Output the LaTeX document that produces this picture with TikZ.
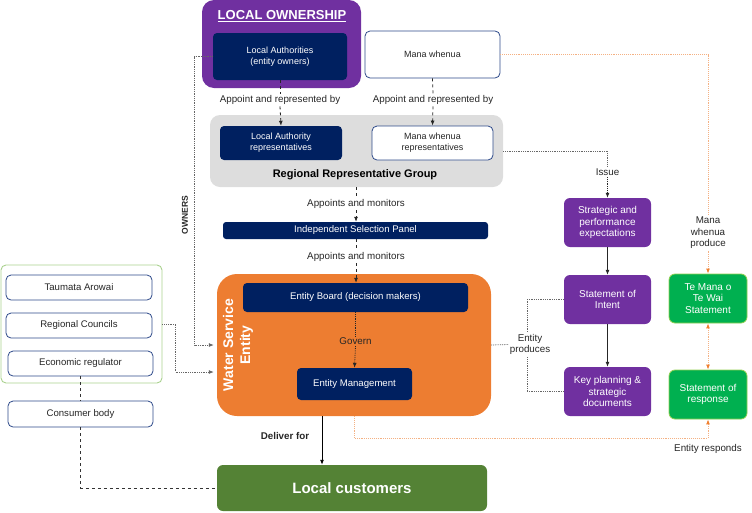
\documentclass[tikz,border=0pt]{standalone}
\usepackage{fontspec}
\setmainfont{Liberation Sans}
\usetikzlibrary{arrows.meta}
\definecolor{navy}{HTML}{002060}
\definecolor{ownpurple}{HTML}{7030A0}
\definecolor{wseorange}{HTML}{ED7D31}
\definecolor{custgreen}{HTML}{548235}
\definecolor{docgreen}{HTML}{00B050}
\definecolor{docgreenline}{HTML}{92D050}
\definecolor{rrggray}{HTML}{DDDDDD}
\definecolor{boxline}{HTML}{2E4A8A}
\definecolor{reggreen}{HTML}{A9D18E}
\definecolor{orangeline}{HTML}{F4B183}
\definecolor{orangetip}{HTML}{F08030}
\tikzset{
    boxtext/.style={font=\fontsize{9}{11}\selectfont, align=center, inner sep=0pt},
    bigtext/.style={font=\fontsize{9.6}{11.5}\selectfont},
    navybox/.style={boxtext, fill=navy, text=white, rounded corners=4pt},
    whitebox/.style={boxtext, draw=boxline, fill=white, text=black!85, rounded corners=5pt, line width=0.8pt},
    purplebox/.style={boxtext, font=\fontsize{10}{11.5}\selectfont, fill=ownpurple, text=white, rounded corners=6pt, minimum width=87pt, minimum height=49pt},
    greenbox/.style={boxtext, font=\fontsize{10}{11.5}\selectfont, fill=docgreen, draw=docgreenline, line width=0.8pt, text=white, rounded corners=6pt, minimum width=78pt, minimum height=49pt},
    lbl/.style={font=\fontsize{9.8}{11.5}\selectfont, text=black!85, align=center, inner sep=1.5pt},
    tip/.style={-{Latex[length=5pt,width=4pt]}},
    dashline/.style={dashed, black!85, line width=0.8pt},
    dotline/.style={densely dotted, black!60, line width=0.8pt},
    orangedot/.style={densely dotted, orangeline, line width=0.9pt}
}
\begin{document}
\begin{tikzpicture}[x=1pt, y=-1pt]
        \useasboundingbox (0,0) rectangle (752,512);

        \node[fill=ownpurple, rounded corners=12pt, minimum width=159pt, minimum height=88pt] (own) at (281.5,44) {};
        \node[font=\bfseries\fontsize{13}{15}\selectfont, text=white, inner sep=0pt] (owntitle) at (282,16) {\underline{LOCAL OWNERSHIP}};
        \node[fill=rrggray, rounded corners=10pt, minimum width=293pt, minimum height=72pt] (rrg) at (356.5,151) {};
        \node[font=\bfseries\fontsize{11}{13}\selectfont] (rrgtitle) at (355,175) {Regional Representative Group};
        \node[fill=wseorange, rounded corners=20pt, minimum width=274pt, minimum height=142pt] (wse) at (354,345) {};
        \node[rotate=90, font=\bfseries\fontsize{14}{17}\selectfont, text=white, align=center, inner sep=0pt] (wsetitle) at (238,345) {Water Service\\Entity};
        \node[draw=reggreen, line width=0.9pt, rounded corners=5pt, minimum width=161pt, minimum height=118pt] (reg) at (81.5,324) {};

        \node[navybox, minimum width=134pt, minimum height=47pt] (la) at (280,56.5) {Local Authorities\\(entity owners)};
        \node[whitebox, minimum width=135pt, minimum height=47pt] (mw) at (432.5,54.5) {Mana whenua};
        \node[navybox, minimum width=122pt, minimum height=34pt] (lar) at (281,143) {Local Authority\\representatives};
        \node[whitebox, minimum width=121pt, minimum height=34pt] (mwr) at (432.5,143) {Mana whenua\\representatives};
        \node[navybox, bigtext, rounded corners=3pt, minimum width=265pt, minimum height=17pt] (isp) at (355.5,230.5) {Independent Selection Panel};
        \node[navybox, bigtext, minimum width=225pt, minimum height=29pt] (board) at (355.5,297.5) {Entity Board (decision makers)};
        \node[navybox, bigtext, minimum width=115pt, minimum height=32pt] (mgmt) at (354.5,384) {Entity Management};
        \node[fill=custgreen, rounded corners=6pt, text=white, font=\bfseries\fontsize{15}{18}\selectfont, minimum width=270pt, minimum height=46pt, inner sep=0pt] (cust) at (352,488) {Local customers};

        \node[whitebox, bigtext, minimum width=146pt, minimum height=25pt] (ta) at (79,287.5) {Taumata Arowai};
        \node[whitebox, bigtext, minimum width=146pt, minimum height=25pt] (rc) at (79,325.5) {Regional Councils};
        \node[whitebox, bigtext, minimum width=145pt, minimum height=25pt] (er) at (80.5,363.5) {Economic regulator};
        \node[whitebox, bigtext, minimum width=145pt, minimum height=26pt] (cb) at (80.5,414) {Consumer body};

        \node[purplebox] (spe) at (607.5,222.5) {Strategic and\\performance\\expectations};
        \node[purplebox] (soi) at (607.5,299.5) {Statement of\\Intent};
        \node[purplebox] (kpd) at (607.5,391.5) {Key planning \&\\strategic\\documents};
        \node[greenbox] (tmw) at (708,298.5) {Te Mana o\\Te Wai\\Statement};
        \node[greenbox] (sor) at (708,394.5) {Statement of\\response};

        \node[lbl] (app1) at (280,100) {Appoint and represented by};
        \node[lbl] (app2) at (433,100) {Appoint and represented by};
        \node[lbl] (mon1) at (356,204) {Appoints and monitors};
        \node[lbl] (mon2) at (356,257) {Appoints and monitors};
        \node[lbl] (gov) at (355.5,341) {Govern};
        \node[lbl, font=\bfseries\fontsize{9.8}{11.5}\selectfont] (deliver) at (285,436) {Deliver for};
        \node[lbl, rotate=90, font=\bfseries\fontsize{8.5}{10}\selectfont] (owners) at (185,215) {OWNERS};
        \node[lbl] (issue) at (607.5,172) {Issue};
        \node[lbl] (prod) at (530,344.5) {Entity\\produces};
        \node[lbl] (mwp) at (708,233) {Mana\\whenua\\produce};
        \node[lbl] (resp) at (708,449) {Entity responds};

        \draw[dashline] (la.south) -- (app1.north);
        \draw[dashline, tip] (app1.south) -- (lar.north);
        \draw[dashline] (mw.south) -- (app2.north);
        \draw[dashline, tip] (app2.south) -- (mwr.north);
        \draw[dashline] (rrg.south -| mon1.north) -- (mon1.north);
        \draw[dashline, tip] (mon1.south) -- (isp.north -| mon1.south);
        \draw[dashline] (isp.south -| mon2.north) -- (mon2.north);
        \draw[dashline, tip] (mon2.south) -- (board.north -| mon2.south);
        \draw[densely dotted, black!85, line width=0.8pt] (board.south) -- (gov.north);
        \draw[densely dotted, black!85, line width=0.8pt, tip] (gov.south) -- (mgmt.north);
        \draw[line width=0.9pt, tip] ([xshift=-32pt]wse.south) -- ([xshift=-32pt]wse.south |- cust.north);

        \draw[dotline, tip, shorten >=3pt] (la.west) -- ++(-18,0) |- (wse.west);
        \draw[dotline, tip, shorten >=3pt] (reg.east) -- ++(13,0) |- ([yshift=-27pt]wse.west);
        \draw[dashed, black!80, line width=1pt] (er.south) -- (cb.north);
        \draw[dashed, black!80, line width=1pt] (cb.south) |- (cust.west);

        \draw[dotline] (rrg.east) -| (issue.north);
        \draw[dotline, black!85, tip] (issue.south) -- (spe.north);
        \draw[line width=0.8pt, black!85, tip] (spe.south) -- (soi.north);
        \draw[line width=0.8pt, black!85, tip] (soi.south) -- (kpd.north);
        \draw[dotline] (wse.east) -- (prod.west);
        \draw[dotline] (soi.west) -| ([xshift=-3pt]prod.north);
        \draw[dotline] (kpd.west) -| ([xshift=-3pt]prod.south);

        \draw[orangedot] (mw.east) -| (mwp.north);
        \draw[orangedot, -{Latex[length=5pt,width=4pt,color=orangetip]}] (mwp.south) -- (tmw.north);
        \draw[orangedot, {Latex[length=5pt,width=4pt,color=orangetip]}-{Latex[length=5pt,width=4pt,color=orangetip]}] (tmw.south) -- (sor.north);
        \draw[orangedot, -{Latex[length=5pt,width=4pt,color=orangetip]}] (wse.south) -- ++(0,22) -| (sor.south);
\end{tikzpicture}
\end{document}
